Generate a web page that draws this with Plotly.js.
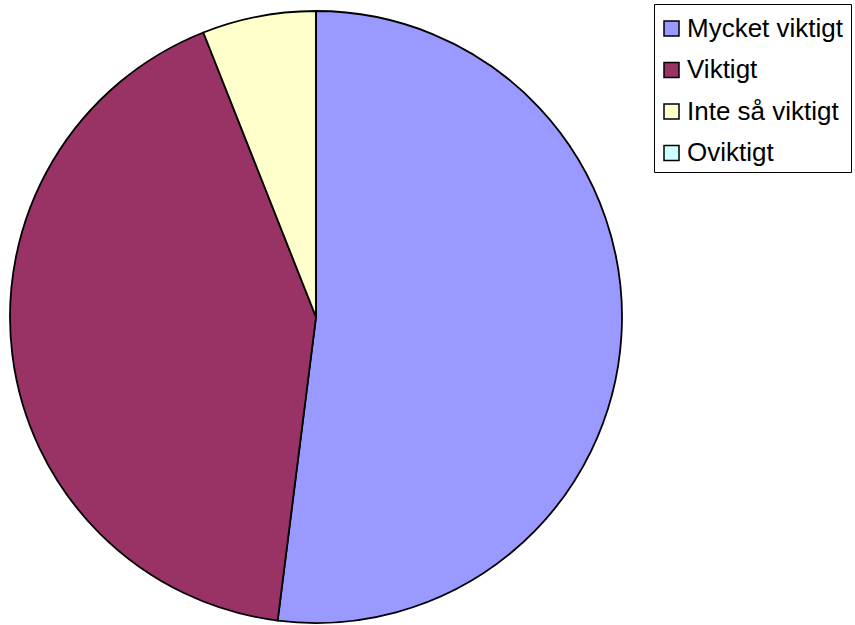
<!DOCTYPE html>
<html>
<head>
<meta charset="utf-8">
<script src="https://cdn.plot.ly/plotly-3.0.1.min.js"></script>
<style>html,body{margin:0;padding:0;background:#fff;}#chart{width:855px;height:625px;}</style>
</head>
<body>
<div id="chart"></div>
<script>
const categories = ["Mycket viktigt", "Viktigt", "Inte så viktigt", "Oviktigt"];
const values = [26, 21, 3, 0];
const colors = ["#9999FF", "#993366", "#FFFFCC", "#CCFFFF"];

const W = 855, H = 625;
const cx = 316, cy = 317, r = 306;
const px = v => v / W;          // pixel x -> paper
const py = v => 1 - v / H;      // pixel y (from top) -> paper

const trace = {
  type: "pie",
  labels: categories,
  values: values,
  sort: false,
  direction: "clockwise",
  rotation: 0,
  textinfo: "none",
  hoverinfo: "label+value+percent",
  marker: { colors: colors, line: { color: "#000000", width: 1.8 } },
  domain: {
    x: [(cx - r) / W, (cx + r) / W],
    y: [(H - cy - r) / H, (H - cy + r) / H]
  },
  showlegend: false
};

// Legend box (drawn as layout shapes/annotations built from the category arrays)
const legBox = { x0: 654.5, x1: 851.5, y0: 4.5, y1: 172.5 };
const rowY0 = 28.5, rowStep = 41.5, sq = 15, sqX = 664, txtX = 685;

const shapes = [{
  type: "rect", xref: "paper", yref: "paper",
  x0: px(legBox.x0), x1: px(legBox.x1), y0: py(legBox.y1), y1: py(legBox.y0),
  line: { color: "#000000", width: 1 }, fillcolor: "#ffffff", layer: "below"
}];
const annotations = [];
categories.forEach((c, i) => {
  const yc = rowY0 + i * rowStep;
  shapes.push({
    type: "rect", xref: "paper", yref: "paper",
    x0: px(sqX), x1: px(sqX + sq), y0: py(yc + sq / 2), y1: py(yc - sq / 2),
    line: { color: "#000000", width: 1.5 }, fillcolor: colors[i]
  });
  annotations.push({
    xref: "paper", yref: "paper", x: px(txtX), y: py(yc - 1),
    xanchor: "left", yanchor: "middle", showarrow: false,
    text: c,
    font: { size: 26, family: "Liberation Sans, Arial, sans-serif", color: "#000000" }
  });
});

const layout = {
  width: W, height: H,
  margin: { l: 0, r: 0, t: 0, b: 0 },
  paper_bgcolor: "#ffffff",
  font: { family: "Liberation Sans, Arial, sans-serif", color: "#000000" },
  showlegend: false,
  shapes: shapes,
  annotations: annotations
};

Plotly.newPlot("chart", [trace], layout, { displayModeBar: false, staticPlot: true });
</script>
</body>
</html>
